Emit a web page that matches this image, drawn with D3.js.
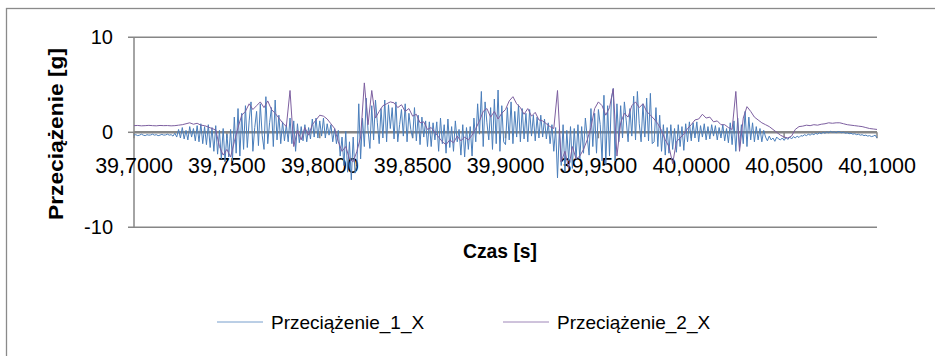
<!DOCTYPE html>
<html>
<head>
<meta charset="utf-8">
<script src="https://cdn.jsdelivr.net/npm/d3@7"></script>
<style>
  body { margin: 0; background: #fff; }
  svg { display: block; }
</style>
</head>
<body>
<div id="chart"></div>
<script>
// dane: czas startu i krok próbkowania
const t0 = 39.7;
const step1 = 0.001;   // Przeciążenie_1_X
const step2 = 0.002;   // Przeciążenie_2_X

const seriesNames = ['Przeciążenie_1_X', 'Przeciążenie_2_X'];
const tickValues = [39.70, 39.75, 39.80, 39.85, 39.90, 39.95, 40.00, 40.05, 40.10];
const tickLabels = ['39,7000', '39,7500', '39,8000', '39,8500', '39,9000', '39,9500', '40,0000', '40,0500', '40,1000'];
const yTicks = [-10, 0, 10];

// Przeciążenie_1_X [g], co 1 ms
const values1 = [
  -0.3,-0.25,-0.35,-0.3,-0.2,-0.3,-0.35,-0.25,-0.3,-0.28,-0.2,-0.3,-0.25,-0.35,-0.3,-0.22,-0.3,-0.28,-0.2,-0.3,
  -0.25,-0.4,-0.1,-0.5,0.3,-0.6,0.5,-0.7,0.2,-0.8,0.6,-0.5,0.4,-0.9,0.7,-1.0,0.9,-1.2,0.6,-1.3,
  0.8,-1.6,0.5,-2.0,0.7,-2.3,0.2,-2.8,0.4,-3.1,-0.2,-2.6,0.3,-3.0,1.6,-2.2,2.5,-2.5,2.0,-1.8,
  2.8,-1.6,1.2,3.2,-2.0,0.5,2.2,-1.4,3.0,-0.3,-1.8,3.75,-1.2,1.0,2.6,-1.5,3.4,-0.8,1.8,-1.2,
  1.1,-0.9,0.8,-1.0,1.5,-1.2,1.2,-2.0,0.9,-1.1,0.6,-0.9,0.8,-1.0,0.5,-0.7,1.4,-0.5,1.5,-0.6,
  1.2,-0.4,1.5,-0.6,0.9,-0.3,0.8,-1.0,0.4,-1.2,0.2,-2.5,-0.5,-3.5,0.1,-4.2,-1.0,-5.0,-0.5,-4.3,
  -3.5,3.0,-2.8,1.5,-1.5,3.6,0.2,-1.7,2.8,-0.8,3.4,1.0,-1.2,2.5,-0.6,3.4,-1.0,2.9,0.4,2.6,
  -0.7,3.2,-1.0,0.8,2.4,-0.4,3.0,-1.0,2.0,0.3,-0.6,2.6,-0.9,1.8,-1.3,1.6,-0.5,1.2,-1.5,1.1,
  -1.5,1.0,-0.8,1.1,-2.0,1.5,-1.2,0.8,-2.2,1.4,-1.6,0.6,-2.0,1.2,-1.0,0.3,-2.4,0.8,-2.6,0.5,
  -1.8,0.6,-2.5,1.5,-1.0,3.0,-0.2,4.3,-1.5,3.2,1.0,-0.8,2.6,-1.8,3.5,-1.2,4.45,-2.0,2.8,-1.0,
  -1.3,2.6,-0.8,3.2,-1.2,2.2,-0.5,2.9,-1.0,2.5,-0.7,2.0,-1.0,2.4,-0.4,1.8,-0.9,1.6,-0.6,1.8,
  -0.5,1.4,-0.7,1.0,-1.2,0.8,-2.0,0.5,-4.8,0.3,-3.5,0.8,-4.2,0.2,-3.0,0.6,-3.8,0.4,-2.8,0.8,
  -2.8,0.6,-2.2,1.5,-0.5,-2.4,2.5,-1.5,2.0,-2.2,2.4,0.8,-3.0,3.9,-3.4,2.8,-2.5,3.5,4.6,-3.0,
  3.0,-1.0,2.8,-0.6,3.2,1.2,-1.0,2.5,-0.4,3.8,-0.8,4.3,0.9,-1.0,3.0,-0.5,3.6,-0.9,4.1,-1.2,
  -1.0,2.6,-1.5,1.8,-2.0,0.8,-2.4,0.5,-2.2,0.8,-1.8,0.4,-2.1,0.8,-1.5,0.6,-1.9,0.9,-1.0,1.1,
  -0.9,1.0,-0.6,1.1,-1.0,0.7,-0.5,0.9,-0.8,0.6,-0.7,0.8,-0.4,0.7,-0.8,0.5,-0.6,0.8,-0.9,0.4,
  -1.1,1.0,-1.3,1.2,-2.0,1.5,-1.6,0.8,-1.2,2.2,-1.5,1.6,-0.8,1.0,-1.0,0.6,-0.8,0.4,-1.0,0.2,
  -0.5,-0.9,-0.4,-0.8,-0.6,-0.95,-0.5,-0.7,-0.8,-0.6,-0.85,-0.55,-0.75,-0.5,-0.7,-0.45,-0.6,-0.4,-0.55,-0.35,
  -0.4,-0.25,-0.35,-0.2,-0.3,-0.15,-0.25,-0.1,-0.2,-0.05,-0.15,0.0,-0.1,0.05,-0.05,0.1,0.0,0.05,-0.05,0.08,
  0.05,-0.05,0.02,-0.1,-0.05,-0.15,-0.1,-0.2,-0.15,-0.25,-0.2,-0.3,-0.25,-0.35,-0.3,-0.4,-0.35,-0.45,-0.4,-0.3,
  -0.6
];

// Przeciążenie_2_X [g], co 2 ms
const values2 = [
  0.7,0.72,0.68,0.7,0.73,0.7,0.68,0.72,0.7,0.71,
  0.68,0.7,0.75,0.8,0.9,1.0,0.85,0.95,0.75,0.7,
  0.55,0.4,0.25,-1.5,-2.4,-1.8,-2.6,-1.0,0.5,1.8,
  2.2,3.0,2.4,2.8,3.2,2.6,3.3,2.4,2.0,1.5,
  1.0,0.6,4.4,-1.5,0.2,-0.8,0.5,-0.3,0.8,1.3,
  1.8,1.7,1.4,0.9,0.4,-1.0,-2.0,-1.5,-2.8,-3.1,
  -2.0,-0.5,5.2,0.8,4.4,1.5,2.2,2.8,3.0,3.2,
  3.1,2.6,2.9,2.2,2.5,1.7,1.9,1.0,1.1,0.3,
  0.5,0.0,-0.5,-1.0,-1.3,-0.8,-1.1,-0.4,-0.9,-0.5,
  -0.8,-0.3,0.4,1.2,2.2,2.5,1.6,2.2,1.4,2.0,
  2.4,3.3,3.75,3.0,2.6,1.9,2.5,1.7,2.1,1.3,
  1.2,0.9,0.6,0.4,4.4,-3.1,-2.0,-3.8,-1.5,-2.8,
  -2.5,-1.8,-0.8,0.5,2.5,3.2,2.8,1.8,2.6,4.6,
  -2.5,1.0,2.0,1.6,2.8,3.2,2.6,3.0,2.2,1.8,
  1.4,0.9,0.2,-0.8,-1.5,-3.3,-1.0,-0.6,-0.2,0.4,
  0.8,1.3,1.4,1.9,1.5,1.6,1.1,1.2,0.8,0.8,
  0.5,0.3,4.3,-2.0,1.5,2.7,2.2,1.6,1.3,1.0,
  0.8,0.6,0.3,0.0,-0.3,-0.5,-0.6,-0.4,0.3,0.6,
  0.65,0.75,0.7,0.8,0.75,0.85,0.9,1.0,0.95,1.0,
  1.0,0.9,0.8,0.75,0.7,0.65,0.6,0.5,0.4,0.35,
  0.3
];

const colors = ['#4a7ebb', '#7d5fa0'];

const width = 935, height = 356;
const plot = { left: 134, right: 877, top: 37.3, bottom: 227.3 };

const svg = d3.select('#chart').append('svg')
  .attr('width', width)
  .attr('height', height);

// ramka wykresu
svg.append('rect')
  .attr('x', 6.5).attr('y', 8.5)
  .attr('width', 1000).attr('height', 400)
  .attr('fill', '#fff')
  .attr('stroke', '#8a8a8a')
  .attr('stroke-width', 1.3);

const x = d3.scaleLinear().domain([39.7, 40.1]).range([plot.left, plot.right]);
const y = d3.scaleLinear().domain([-10, 10]).range([plot.bottom, plot.top]);

// linie siatki
svg.append('g')
  .selectAll('line')
  .data(yTicks.filter(d => d !== 0))
  .enter()
  .append('line')
  .attr('x1', plot.left - 6).attr('x2', plot.right)
  .attr('y1', d => y(d)).attr('y2', d => y(d))
  .attr('stroke', '#868686')
  .attr('stroke-width', 1.5);

// oś Y
svg.append('line')
  .attr('x1', plot.left).attr('x2', plot.left)
  .attr('y1', y(10)).attr('y2', y(-10))
  .attr('stroke', '#868686')
  .attr('stroke-width', 1.5);

svg.append('line')
  .attr('x1', plot.left - 6).attr('x2', plot.left)
  .attr('y1', y(0)).attr('y2', y(0))
  .attr('stroke', '#868686')
  .attr('stroke-width', 1.5);

svg.append('g')
  .selectAll('text')
  .data(yTicks)
  .enter()
  .append('text')
  .attr('x', 113)
  .attr('y', d => y(d) + 7)
  .attr('text-anchor', 'end')
  .attr('font-family', 'Liberation Sans, Arial, sans-serif')
  .attr('font-size', '20px')
  .attr('fill', '#000')
  .text(d => d);

// etykiety osi X (przy zerze)
svg.append('g')
  .selectAll('text')
  .data(tickValues)
  .enter()
  .append('text')
  .attr('x', d => x(d))
  .attr('y', 173)
  .attr('text-anchor', 'middle')
  .attr('font-family', 'Liberation Sans, Arial, sans-serif')
  .attr('font-size', '21.5px')
  .attr('fill', '#000')
  .text((d, i) => tickLabels[i]);

// oś X na poziomie 0
svg.append('line')
  .attr('x1', plot.left).attr('x2', plot.right)
  .attr('y1', y(0)).attr('y2', y(0))
  .attr('stroke', '#868686')
  .attr('stroke-width', 2.5);

svg.append('g')
  .selectAll('line')
  .data(tickValues)
  .enter()
  .append('line')
  .attr('x1', d => x(d)).attr('x2', d => x(d))
  .attr('y1', y(0)).attr('y2', y(0) + 6)
  .attr('stroke', '#868686')
  .attr('stroke-width', 1.5);

// serie
const series = [
  values1.map((v, i) => ({ t: t0 + i * step1, v: v })),
  values2.map((v, i) => ({ t: t0 + i * step2, v: v }))
];

const line = d3.line()
  .x(d => x(d.t))
  .y(d => y(d.v));

series.forEach((s, k) => {
  svg.append('path')
    .datum(s)
    .attr('fill', 'none')
    .attr('stroke', colors[k])
    .attr('stroke-width', 1)
    .attr('stroke-linejoin', 'round')
    .attr('d', line);
});

// tytuły osi
svg.append('text')
  .attr('transform', `translate(63,134) rotate(-90)`)
  .attr('text-anchor', 'middle')
  .attr('font-family', 'Liberation Sans, Arial, sans-serif')
  .attr('font-weight', 'bold')
  .attr('font-size', '20px')
  .attr('textLength', 172)
  .attr('lengthAdjust', 'spacingAndGlyphs')
  .text('Przeciążenie [g]');

svg.append('text')
  .attr('x', 500)
  .attr('y', 258)
  .attr('text-anchor', 'middle')
  .attr('font-family', 'Liberation Sans, Arial, sans-serif')
  .attr('font-weight', 'bold')
  .attr('font-size', '20px')
  .attr('textLength', 74)
  .attr('lengthAdjust', 'spacingAndGlyphs')
  .text('Czas [s]');

// legenda
const legend = svg.append('g');
const legendX = [217, 503];
seriesNames.forEach((name, k) => {
  legend.append('line')
    .attr('x1', legendX[k]).attr('x2', legendX[k] + 46)
    .attr('y1', 322).attr('y2', 322)
    .attr('stroke', colors[k])
    .attr('stroke-opacity', 0.75)
    .attr('stroke-width', 1);
  legend.append('text')
    .attr('x', legendX[k] + 54)
    .attr('y', 329)
    .attr('font-family', 'Liberation Sans, Arial, sans-serif')
    .attr('font-size', '19px')
    .attr('fill', '#000')
    .text(name);
});
</script>
</body>
</html>
